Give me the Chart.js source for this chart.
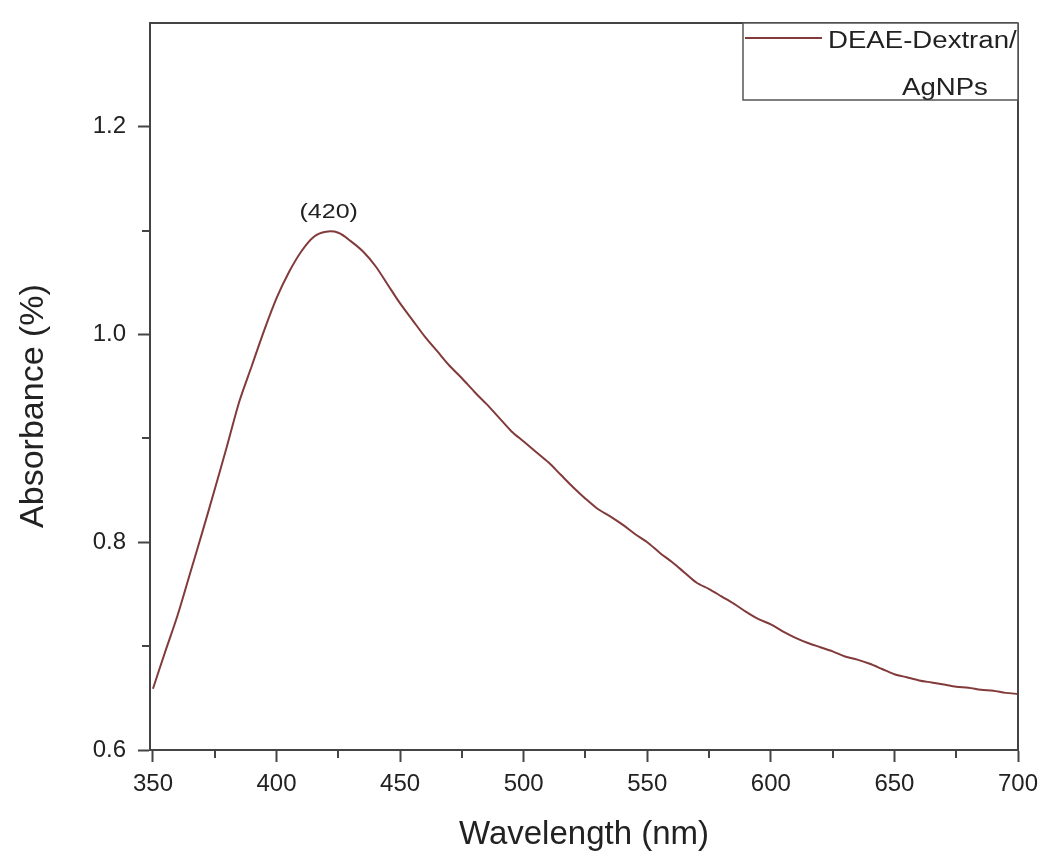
<!DOCTYPE html>
<html>
<head>
<meta charset="utf-8">
<script src="https://cdn.jsdelivr.net/npm/chart.js@4.4.0/dist/chart.umd.min.js"></script>
<style>
  html, body { margin: 0; padding: 0; background: #ffffff; }
  #wrap { width: 1045px; height: 855px; position: relative; }
</style>
</head>
<body>
<div id="wrap"><canvas id="c" width="1045" height="855"></canvas></div>
<script>
// ---- data ----
const wavelengths = [350,355,360,365,370,375,380,385,390,395,400,405,410,415,420,425,430,435,440,445,
  450,455,460,465,470,475,480,485,490,495,500,505,510,515,520,525,530,535,540,545,
  550,555,560,565,570,575,580,585,590,595,600,605,610,615,620,625,630,635,640,645,
  650,655,660,665,670,675,680,685,690,695,700];
const absorbance = [0.659,0.695,0.730,0.770,0.810,0.851,0.893,0.936,0.970,1.004,1.035,1.060,1.080,1.094,1.099,1.098,1.090,1.080,1.066,1.048,
  1.030,1.014,0.998,0.984,0.970,0.958,0.945,0.933,0.920,0.907,0.897,0.887,0.877,0.865,0.853,0.842,0.832,0.825,0.817,0.808,
  0.800,0.790,0.781,0.771,0.761,0.755,0.748,0.741,0.733,0.726,0.721,0.714,0.708,0.703,0.699,0.695,0.690,0.687,0.683,0.678,
  0.673,0.670,0.667,0.665,0.663,0.661,0.660,0.658,0.657,0.655,0.654];
const xMajorTicks = [350,400,450,500,550,600,650,700];
const xMinorTicks = [375,425,475,525,575,625,675];
const yMajorTicks = [0.6,0.8,1.0,1.2];
const yMinorTicks = [0.7,0.9,1.1];
const seriesLabel = ["DEAE-Dextran/", "AgNPs"];
const xTitle = 'Wavelength (nm)';
const yTitle = 'Absorbance (%)';
const peakLabel = "(420)";
const peakWavelength = 421.5;
const peakValue = 1.099;

const AXIS = '#444444';
const TEXT = '#222222';
const LINE = '#823a3a';
const FONT = '"Liberation Sans", Arial, sans-serif';

const extras = {
  id: 'extras',
  afterDraw(chart) {
    const ctx = chart.ctx;
    const a = chart.chartArea;
    const xs = chart.scales.x, ys = chart.scales.y;
    ctx.save();
    // frame top & right
    ctx.strokeStyle = AXIS;
    ctx.lineWidth = 2;
    ctx.beginPath();
    ctx.moveTo(a.left, a.top); ctx.lineTo(a.right, a.top);
    ctx.moveTo(a.right, a.top); ctx.lineTo(a.right, a.bottom);
    ctx.stroke();
    // minor ticks
    ctx.beginPath();
    xMinorTicks.forEach(v => {
      const px = Math.round(xs.getPixelForValue(v));
      ctx.moveTo(px, a.bottom); ctx.lineTo(px, a.bottom + 8);
    });
    yMinorTicks.forEach(v => {
      const py = Math.round(ys.getPixelForValue(v));
      ctx.moveTo(a.left, py); ctx.lineTo(a.left - 8, py);
    });
    ctx.stroke();
    // y title
    ctx.save();
    ctx.fillStyle = TEXT;
    ctx.font = '34px ' + FONT;
    ctx.translate(43, 406);
    ctx.rotate(-Math.PI / 2);
    ctx.textAlign = 'center';
    ctx.textBaseline = 'alphabetic';
    ctx.fillText(yTitle, 0, 0);
    ctx.restore();
    // legend box
    const lx = 743, ly = a.top, lw = a.right - 743, lh = 77;
    ctx.fillStyle = '#ffffff';
    ctx.fillRect(lx, ly, lw, lh);
    ctx.lineWidth = 1.5;
    ctx.strokeStyle = '#555555';
    ctx.strokeRect(lx, ly, lw, lh);
    ctx.strokeStyle = chart.data.datasets[0].borderColor;
    ctx.lineWidth = 2;
    ctx.beginPath();
    ctx.moveTo(lx + 2, ly + 15); ctx.lineTo(lx + 79, ly + 15);
    ctx.stroke();
    ctx.fillStyle = TEXT;
    ctx.font = '23px ' + FONT;
    ctx.textBaseline = 'alphabetic';
    ctx.textAlign = 'left';
    const sx = 1.2;
    ctx.save();
    ctx.translate(lx + 85, ly + 25);
    ctx.scale(sx, 1);
    ctx.fillText(seriesLabel[0], 0, 0);
    ctx.restore();
    ctx.save();
    ctx.translate(lx + 159, ly + 72);
    ctx.scale(sx, 1);
    ctx.fillText(seriesLabel[1], 0, 0);
    ctx.restore();
    // peak annotation
    const pxp = xs.getPixelForValue(peakWavelength);
    const pyp = ys.getPixelForValue(peakValue);
    ctx.save();
    ctx.translate(pxp - 1, pyp - 14);
    ctx.scale(1.25, 1);
    ctx.font = '20px ' + FONT;
    ctx.textAlign = 'center';
    ctx.fillText(peakLabel, 0, 0);
    ctx.restore();
    ctx.restore();
  }
};

const ctx = document.getElementById('c').getContext('2d');
new Chart(ctx, {
  type: 'line',
  data: {
    datasets: [{
      label: seriesLabel.join(' '),
      data: wavelengths.map((w, i) => ({x: w, y: absorbance[i]})),
      borderColor: LINE,
      borderWidth: 2,
      pointRadius: 0,
      tension: 0.3,
      fill: false
    }]
  },
  options: {
    responsive: false,
    animation: false,
    devicePixelRatio: 1,
    layout: { padding: { top: 23, right: 27, left: 0, bottom: 0 } },
    plugins: { legend: { display: false }, tooltip: { enabled: false } },
    scales: {
      x: {
        type: 'linear',
        min: 348.8,
        max: 700,
        afterBuildTicks: s => { s.ticks = xMajorTicks.map(v => ({value: v})); },
        afterFit: s => { s.height = 105; s.paddingLeft = 0; s.paddingRight = 0; },
        border: { display: true, color: AXIS, width: 2 },
        grid: { drawOnChartArea: false, drawTicks: true, tickLength: 12, tickColor: AXIS, tickWidth: 2 },
        ticks: { color: TEXT, font: { family: FONT, size: 24 }, padding: 8, maxRotation: 0, autoSkip: false },
        title: { display: true, text: xTitle, color: TEXT, font: { family: FONT, size: 33 }, padding: { top: 0, bottom: 0 } }
      },
      y: {
        type: 'linear',
        min: 0.6,
        max: 1.3,
        afterBuildTicks: s => { s.ticks = yMajorTicks.map(v => ({value: v})); },
        afterFit: s => { s.width = 150; s.paddingTop = 0; s.paddingBottom = 0; },
        border: { display: true, color: AXIS, width: 2 },
        grid: { drawOnChartArea: false, drawTicks: true, tickLength: 12, tickColor: AXIS, tickWidth: 2 },
        ticks: { color: TEXT, font: { family: FONT, size: 24 }, padding: 12, autoSkip: false,
                 callback: v => Number(v).toFixed(1) },
        title: { display: false }
      }
    }
  },
  plugins: [extras]
});
</script>
</body>
</html>
